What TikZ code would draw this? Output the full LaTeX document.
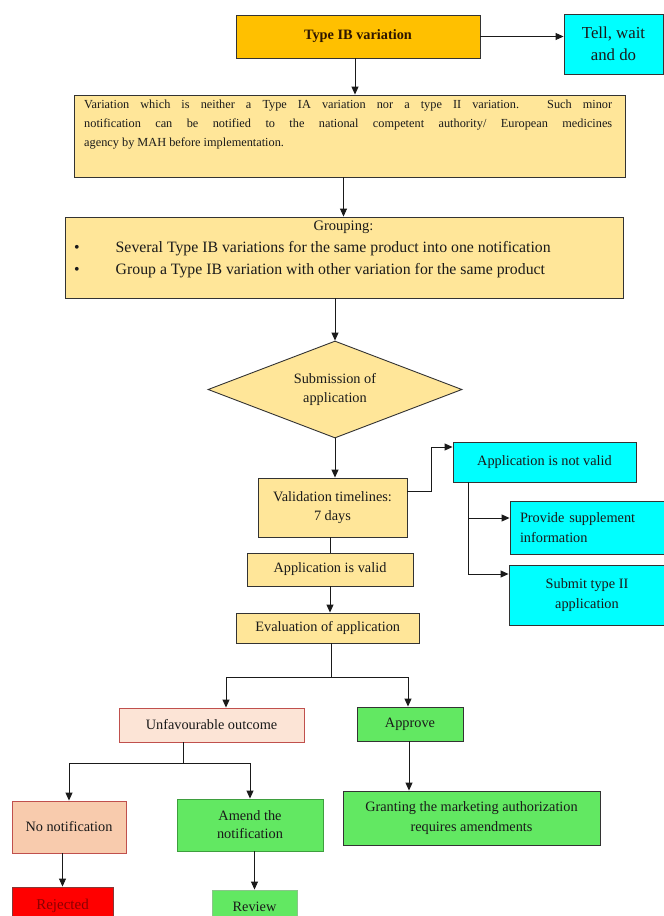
\documentclass[tikz,border=0pt]{standalone}
\usepackage{fontspec}
\setmainfont{Liberation Serif}
\usetikzlibrary{arrows.meta,shapes.geometric,calc}

\definecolor{ibOrange}{HTML}{FFC000}
\definecolor{ibText}{HTML}{2E1600}
\definecolor{paleOrange}{HTML}{FFE699}
\definecolor{aqua}{HTML}{00FFFF}
\definecolor{blush}{HTML}{FCE4D6}
\definecolor{peach}{HTML}{F8CBAD}
\definecolor{okGreen}{HTML}{62E862}
\definecolor{stopRed}{HTML}{FF0000}
\definecolor{rejText}{HTML}{8C0000}
\definecolor{edge}{HTML}{333333}
\definecolor{redEdge}{HTML}{C0504D}
\definecolor{greenEdge}{HTML}{3E9E3E}
\definecolor{ink}{HTML}{1A1A1A}

\begin{document}
\begin{tikzpicture}[x=1pt,y=-1pt,
  box/.style={draw=edge, line width=0.9pt, inner sep=0pt, align=center, text=ink,
              font=\fontsize{14.3}{19.3}\selectfont},
  dims/.style 2 args={minimum width=#1pt, minimum height=#2pt},
  plain/.style={inner sep=0pt, text=ink},
  small/.style={plain, anchor=base west, font=\fontsize{12.3}{19}\selectfont},
  link/.style={draw=ink, line width=0.9pt},
  arr/.style={link, -{Triangle[length=8pt,width=7pt]}}]

% page
\useasboundingbox (0,0) rectangle (664,916);
\fill[white] (0,0) rectangle (664,916);

% ---- top ----
\node[box, fill=ibOrange, dims={244}{43}, text=ibText,
      font=\fontsize{14.3}{19.3}\selectfont\bfseries] (tib) at (358,36.5) {Type IB variation};
\node[box, fill=aqua, dims={99}{60}, font=\fontsize{16.8}{21.7}\selectfont] (tell) at (613.5,44) {Tell, wait\\and do};

% definition box
\node[box, fill=paleOrange, dims={551}{82}] (var) at (349.5,136) {};
\node[small] (var1) at (84,108.5)
  {\makebox[528pt][s]{Variation which is neither a Type IA variation nor a type II variation. Such minor}};
\node[small] (var2) at (84,127.5)
  {\makebox[528pt][s]{notification can be notified to the national competent authority/ European medicines}};
\node[small] (var3) at (84,146.5)
  {agency by MAH before implementation.};

% grouping box
\node[box, fill=paleOrange, dims={558}{81}] (grp) at (344,257.5) {};
\node[plain, anchor=base, font=\fontsize{14.5}{18}\selectfont] (grpHead) at (343.5,230.5) {Grouping:};
\node[plain, anchor=base, font=\fontsize{15.8}{20}\selectfont] (bul1) at (77,252.5) {\textbullet};
\node[plain, anchor=base west, font=\fontsize{15.8}{20}\selectfont] (grp1) at (115.5,252.5)
  {Several Type IB variations for the same product into one notification};
\node[plain, anchor=base, font=\fontsize{15.8}{20}\selectfont] (bul2) at (77,274.5) {\textbullet};
\node[plain, anchor=base west, font=\fontsize{15.8}{20}\selectfont] (grp2) at (115.5,274.5)
  {Group a Type IB variation with other variation for the same product};

% submission
\node[box, diamond, fill=paleOrange, minimum width=254pt, minimum height=97pt, aspect=2.62]
  (dia) at (335,389.5) {Submission of\\application};

% validation
\node[box, fill=paleOrange, dims={149}{59}] (val) at (332.5,507.5) {Validation timelines:\\7 days};
\node[box, fill=aqua, dims={183}{40}] (notv) at (544.5,462) {Application is not valid};
\node[box, fill=aqua, dims={155}{53}, text width=135pt, align=left] (prov) at (587.5,527.5)
  {Provide supplement\\information};
\node[box, fill=aqua, dims={156}{60}] (sub) at (587,595) {Submit type II\\application};
\node[box, fill=paleOrange, dims={166}{33}] (vld) at (330,569.5) {Application is valid};
\node[box, fill=paleOrange, dims={183.5}{30}] (eval) at (327.75,628) {Evaluation of application};

% outcomes
\node[box, fill=blush, draw=redEdge, dims={185}{34}] (unf) at (211.5,725) {Unfavourable outcome};
\node[box, fill=okGreen, dims={106}{34}] (app) at (410,724) {Approve};
\node[box, fill=peach, draw=redEdge, dims={114}{52}] (non) at (69,827) {No notification};
\node[box, fill=okGreen, draw=greenEdge, dims={146}{52}, font=\fontsize{14.3}{18}\selectfont]
  (amd) at (250,825) {Amend the\\notification};
\node[box, fill=okGreen, dims={257}{54}] (grant) at (471.5,818)
  {Granting the marketing authorization\\requires amendments};
\node[box, fill=stopRed, draw=redEdge!70!black, dims={101}{38}, text=rejText,
      font=\fontsize{15}{19}\selectfont] (rej) at (62.5,906) {Rejected};
\node[box, fill=okGreen, draw=greenEdge!60, dims={85}{33}] (rev) at (254.5,906.5) {Review};

% ---- connectors ----
\coordinate (c1) at (355,0);
\coordinate (c2) at (343.5,0);
\draw[arr] (tib.east) -- (tib.east -| tell.west);
\draw[arr] (tib.south -| c1) -- (var.north -| c1);
\draw[arr] (var.south -| c2) -- (grp.north -| c2);
\draw[arr] (grp.south -| dia.north) -- (dia.north);
\draw[arr] (dia.south) -- (dia.south |- val.north);

\draw[arr] ($(val.east)+(0,-16.5)$) -- ++(24,0) |- ($(notv.west)+(0,-15)$);
\coordinate (j1) at (468,518);
\coordinate (j2) at (468,574);
\draw[link] (notv.south -| j1) -- (j2);
\draw[arr] (j1) -- (j1 -| prov.west);
\draw[arr] (j2) -- (j2 -| sub.west);

\draw[link] (vld.north |- val.south) -- (vld.north);
\draw[arr] (vld.south) -- (vld.south |- eval.north);

\coordinate (s1) at (331,677);
\draw[link] (eval.south -| s1) -- (s1);
\draw[arr] (s1) -| ($(unf.north)+(14.5,0)$);
\draw[arr] (s1) -| ($(app.north)+(-2,0)$);

\coordinate (s2) at (183.5,763);
\draw[link] (unf.south -| s2) -- (s2);
\draw[arr] (s2) -| (non.north);
\draw[arr] (s2) -| (amd.north);

\draw[arr] ($(app.south)+(-1,0)$) -- ($(app.south |- grant.north)+(-1,0)$);
\draw[arr] (rej.north |- non.south) -- (rej.north);
\draw[arr] (rev.north |- amd.south) -- (rev.north);
\end{tikzpicture}
\end{document}
